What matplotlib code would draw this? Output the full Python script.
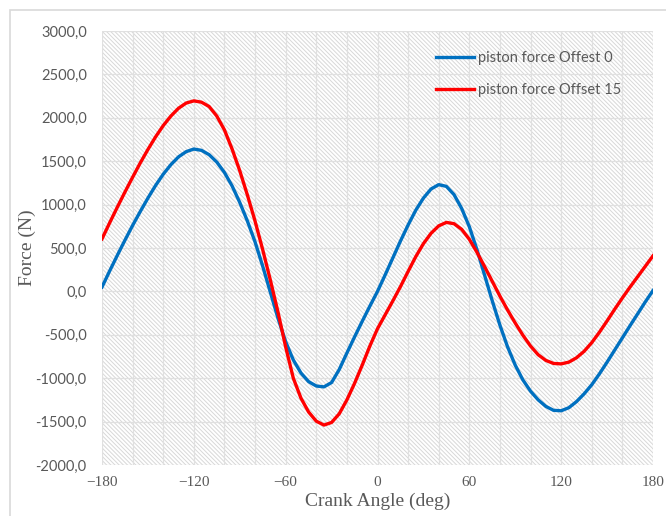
import matplotlib.pyplot as plt
from matplotlib.patches import Rectangle
from matplotlib.ticker import FuncFormatter

angle = list(range(-180, 181, 5))

offset_0 = [50, 235, 415, 590, 760, 920, 1075, 1220, 1350, 1460,
            1550, 1610, 1640, 1625, 1575, 1490, 1370, 1215, 1025, 810,
            570, 290, -10, -310, -580, -790, -940, -1040, -1090, -1100,
            -1050, -900, -710, -525, -345, -170, 0, 190, 385, 580,
            765, 935, 1075, 1180, 1230, 1210, 1115, 955, 745, 480,
            185, -110, -390, -640, -850, -1020, -1150, -1250, -1325, -1370,
            -1375, -1340, -1270, -1180, -1075, -950, -815, -675, -535, -395,
            -258, -120, 10]

offset_15 = [605, 790, 970, 1145, 1315, 1480, 1635, 1780, 1910, 2020,
             2110, 2170, 2195, 2180, 2130, 2020, 1860, 1640, 1390, 1110,
             810, 480, 130, -240, -640, -1000, -1230, -1390, -1495, -1540,
             -1510, -1410, -1250, -1060, -850, -630, -430, -270, -110, 55,
             230, 400, 550, 670, 755, 795, 780, 715, 600, 450,
             285, 115, -55, -215, -365, -505, -630, -730, -795, -830,
             -835, -815, -765, -690, -590, -470, -340, -205, -75, 50,
             170, 290, 410]

y_ticks = [-2000, -1500, -1000, -500, 0, 500, 1000, 1500, 2000, 2500, 3000]
x_ticks = [-180, -120, -60, 0, 60, 120, 180]

grey = '#595959'
plt.rcParams['hatch.linewidth'] = 0.7

fig = plt.figure(figsize=(6.66, 5.16), dpi=100)
fig.patches.append(Rectangle((10 / 666, -0.1), 1.1, 1 - 10 / 516 + 0.1,
                             transform=fig.transFigure, facecolor='none',
                             edgecolor='#d9d9d9', linewidth=1.2))
ax = fig.add_axes([102 / 666, 1 - 465 / 516, 551 / 666, 434 / 516])

# hatched plot area like the Excel pattern fill
ax.add_patch(Rectangle((0, 0), 1, 1, transform=ax.transAxes, facecolor='white',
                       edgecolor='#d8d8d8', linewidth=0, hatch='\\' * 8, zorder=0))

ax.plot(angle, offset_0, color='#0070c0', lw=2.4, solid_joinstyle='round',
        label='piston force Offest 0', zorder=3)
ax.plot(angle, offset_15, color='#ff0000', lw=2.4, solid_joinstyle='round',
        label='piston force Offset 15', zorder=3)

ax.set_xlim(-180, 180)
ax.set_ylim(-2000, 3000)
ax.set_xticks(x_ticks)
ax.set_xticks(range(-180, 181, 20), minor=True)
ax.set_yticks(y_ticks)
ax.yaxis.set_major_formatter(FuncFormatter(lambda v, p: f'{v:.1f}'.replace('.', ',')))
ax.grid(True, which='both', color='#e0e0e0', lw=0.9, zorder=1)
ax.set_axisbelow(True)
for s in ax.spines.values():
    s.set_visible(False)
ax.tick_params(which='both', length=0)
ax.tick_params(axis='y', pad=11, labelcolor=grey)
ax.tick_params(axis='x', pad=8, labelcolor=grey)
for t in ax.get_yticklabels():
    t.set_fontfamily('Lato')
    t.set_fontsize(10.5)
for t in ax.get_xticklabels():
    t.set_fontfamily('Liberation Serif')
    t.set_fontsize(11)

ax.set_xlabel('Crank Angle (deg)', family='Liberation Serif', fontsize=14, color=grey)
ax.xaxis.set_label_coords(0.5, (465 - 493) / 434)
ax.set_ylabel('Force (N)', family='Liberation Serif', fontsize=14, color=grey)
ax.yaxis.set_label_coords((36 - 102) / 551, 0.5)

leg = ax.legend(loc='upper right', bbox_to_anchor=(0.967, 0.985), frameon=False,
                prop={'family': 'Lato', 'size': 10.5}, handlelength=2.6,
                handletextpad=0.3, labelspacing=1.25)
for t in leg.get_texts():
    t.set_color(grey)

fig.savefig('out.png', dpi=100)
